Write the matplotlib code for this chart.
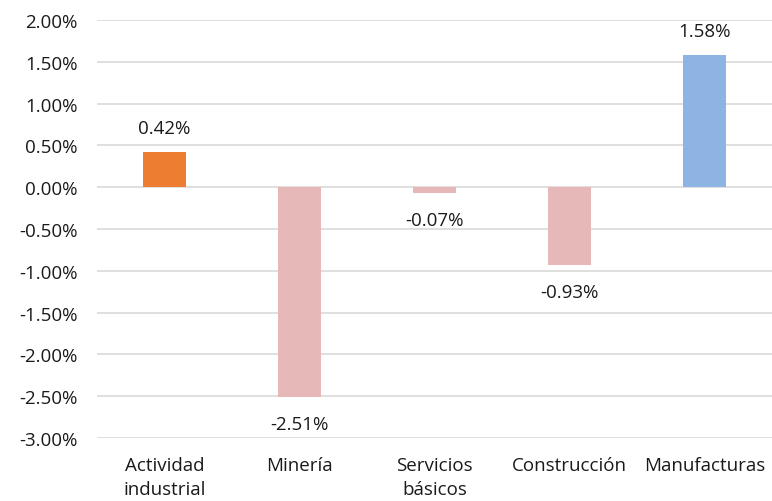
import matplotlib.pyplot as plt
from matplotlib.ticker import FuncFormatter

plt.rcParams['font.family'] = ['Open Sans', 'DejaVu Sans']

# Data
categories = ['Actividad\nindustrial', 'Minería', 'Servicios\nbásicos', 'Construcción', 'Manufacturas']
values = [0.42, -2.51, -0.07, -0.93, 1.58]
colors = ['#ED7D31', '#E6B9B8', '#E6B9B8', '#E6B9B8', '#8EB4E3']

fig = plt.figure(figsize=(7.72, 5.02), dpi=100)
ax = fig.add_axes([0.1256, 0.1255, 0.8744, 0.8327])

x = range(len(categories))
ax.bar(x, values, width=0.32, color=colors, zorder=3)

fs = 13.5
for xi, v in zip(x, values):
    if v >= 0:
        ax.text(xi, v + 0.18, f'{v:.2f}%', ha='center', va='bottom', fontsize=fs, color='#1a1a1a')
    else:
        ax.text(xi, v - 0.22, f'{v:.2f}%', ha='center', va='top', fontsize=fs, color='#1a1a1a')

ax.set_xlim(-0.5, len(categories) - 0.5)
ax.set_ylim(-3.0, 2.0)
ax.set_yticks([2.0, 1.5, 1.0, 0.5, 0.0, -0.5, -1.0, -1.5, -2.0, -2.5, -3.0])
ax.yaxis.set_major_formatter(FuncFormatter(lambda v, p: f'{v:.2f}%'))
ax.set_xticks(list(x))
ax.set_xticklabels(categories, va='top', ha='center', linespacing=1.45)

ax.grid(axis='y', color='#d9d9d9', linewidth=1.2, zorder=0)
for s in ax.spines.values():
    s.set_visible(False)
ax.tick_params(axis='both', length=0, labelsize=fs, colors='#1a1a1a')
ax.tick_params(axis='x', pad=13)
ax.tick_params(axis='y', pad=14)

fig.savefig('out.png', dpi=100)
